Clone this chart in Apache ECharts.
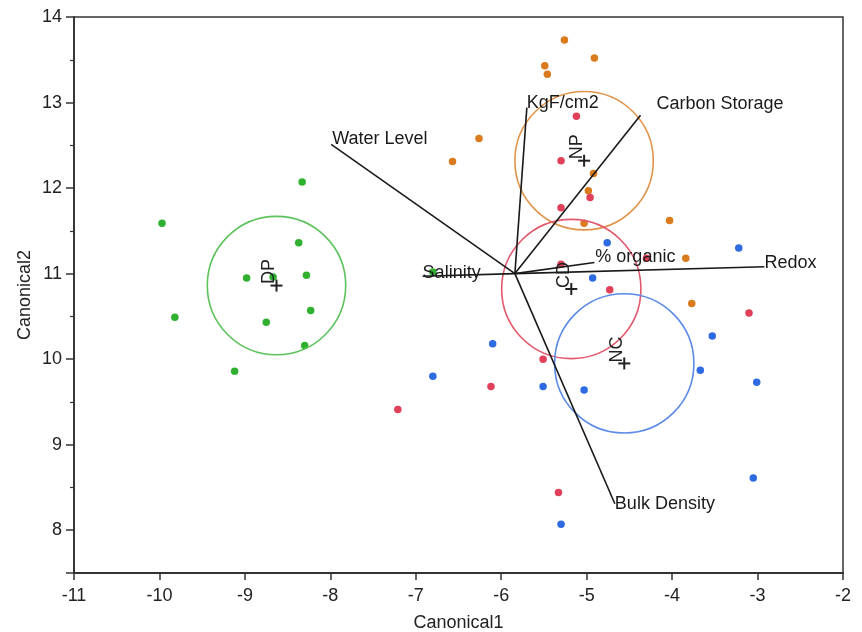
<!DOCTYPE html>
<html>
<head>
<meta charset="utf-8">
<script src="https://cdn.jsdelivr.net/npm/echarts@6/dist/echarts.min.js"></script>
<style>
  html, body { margin: 0; padding: 0; background: #fff; }
  #picture { width: 862px; height: 632px; }
</style>
</head>
<body>
<div id="picture"></div>
<script>
// group points (Canonical1, Canonical2)
var dpPoints = [[-9.97, 11.59], [-8.33, 12.07], [-8.37, 11.36], [-8.98, 10.95], [-8.67, 10.96], [-8.28, 10.98],
                [-8.23, 10.57], [-8.75, 10.43], [-8.30, 10.16], [-9.82, 10.49], [-9.12, 9.86], [-6.80, 11.02]];
var npPoints = [[-5.26, 13.73], [-4.91, 13.52], [-5.49, 13.43], [-5.46, 13.33], [-6.26, 12.58], [-6.57, 12.31],
                [-4.92, 12.17], [-4.98, 11.97], [-5.03, 11.59], [-4.03, 11.62], [-3.84, 11.18], [-3.77, 10.65]];
var cdPoints = [[-5.12, 12.84], [-5.30, 12.32], [-4.96, 11.89], [-5.30, 11.77], [-5.30, 11.11], [-4.30, 11.18],
                [-4.73, 10.81], [-5.51, 10.00], [-6.12, 9.68], [-7.21, 9.41], [-5.33, 8.44], [-3.10, 10.54]];
var ncPoints = [[-4.76, 11.36], [-4.93, 10.95], [-6.10, 10.18], [-6.80, 9.80], [-5.51, 9.68], [-5.03, 9.64],
                [-5.30, 8.07], [-3.22, 11.30], [-3.53, 10.27], [-3.67, 9.87], [-3.01, 9.73], [-3.05, 8.61]];

// group means and circle radius
var groupNames = ['DP', 'NP', 'CD', 'NC'];
var groupCenterX = [-8.63, -5.03, -5.18, -4.56];
var groupCenterY = [10.86, 12.32, 10.82, 9.95];
var groupRadius = [0.81, 0.81, 0.815, 0.815];

// biplot rays
var rayOrigin = [-5.84, 11.00];
var rayNames = ['Water Level', 'KgF/cm2', 'Carbon Storage', '% organic', 'Redox', 'Salinity', 'Bulk Density'];
var rayX = [-7.99, -5.70, -4.37, -4.91, -2.92, -6.92, -4.67];
var rayY = [12.51, 12.94, 12.85, 11.13, 11.08, 10.97, 8.31];

var dotColors = ['#2fb12f', '#d97b1e', '#e0405a', '#2f6be0'];
var ringColors = ['#5cc25c', '#e0944a', '#e2586c', '#5b8be6'];
var rayLabelOffset = [[1, 4], [0, 4], [16, -2], [1, 4], [0, 5], [0, 6], [0, 9]];
var FONT = '18px "Liberation Sans", Arial, sans-serif';

var myChart = echarts.init(document.getElementById('picture'));

var dotSeries = [dpPoints, npPoints, cdPoints, ncPoints].map(function (pts, i) {
    return {
        name: groupNames[i],
        type: 'scatter',
        symbolSize: 7.5,
        data: pts,
        itemStyle: { color: dotColors[i], opacity: 1 },
        z: 2
    };
});

var option = {
    backgroundColor: '#fff',
    animation: false,
    grid: {
        left: 74, right: 19, top: 17, bottom: 59,
        outerBoundsMode: 'none',
        containLabel: false,
        show: true, borderColor: '#333', borderWidth: 1.5
    },
    xAxis: {
        type: 'value',
        min: -11, max: -2, interval: 1,
        name: 'Canonical1',
        nameLocation: 'middle',
        nameGap: 41,
        nameMoveOverlap: false,
        nameTextStyle: { color: '#222', fontSize: 18, fontFamily: 'Liberation Sans' },
        axisLine: { onZero: false, lineStyle: { color: '#333', width: 1.8 } },
        axisTick: { length: 7, lineStyle: { color: '#333', width: 1.5 } },
        axisLabel: { color: '#222', fontSize: 18, fontFamily: 'Liberation Sans', margin: 14 },
        splitLine: { show: false }
    },
    yAxis: {
        type: 'value',
        min: 7.5, max: 14,
        name: 'Canonical2',
        nameLocation: 'middle',
        nameGap: 40,
        nameMoveOverlap: false,
        nameTextStyle: { color: '#222', fontSize: 18, fontFamily: 'Liberation Sans' },
        axisLine: { onZero: false, lineStyle: { color: '#333', width: 1.8 } },
        axisTick: { length: 8, lineStyle: { color: '#333', width: 1.5 } },
        minorTick: { show: true, splitNumber: 2, length: 4, lineStyle: { color: '#333', width: 1.2 } },
        axisLabel: { color: '#222', fontSize: 18, fontFamily: 'Liberation Sans', margin: 12, showMinLabel: false },
        splitLine: { show: false }
    },
    series: dotSeries.concat([
        {
            type: 'custom',
            name: 'groups',
            data: groupCenterX.map(function (x, i) { return [x, groupCenterY[i]]; }),
            z: 3,
            renderItem: function (params, api) {
                var i = params.dataIndex;
                var c = api.coord([api.value(0), api.value(1)]);
                var r = api.size([groupRadius[i], 0])[0];
                return {
                    type: 'group',
                    children: [
                        { type: 'circle', shape: { cx: c[0], cy: c[1], r: r },
                          style: { fill: null, stroke: ringColors[i], lineWidth: 1.6 } },
                        { type: 'line', shape: { x1: c[0] - 6, y1: c[1], x2: c[0] + 6, y2: c[1] },
                          style: { stroke: '#222', lineWidth: 2 } },
                        { type: 'line', shape: { x1: c[0], y1: c[1] - 6, x2: c[0], y2: c[1] + 6 },
                          style: { stroke: '#222', lineWidth: 2 } },
                        { type: 'text', x: c[0] - 7, y: c[1] - 14, rotation: Math.PI / 2,
                          style: { text: groupNames[i], font: FONT, fill: '#222', align: 'center', verticalAlign: 'middle' } }
                    ]
                };
            }
        },
        {
            type: 'custom',
            name: 'rays',
            data: rayX.map(function (x, i) { return [x, rayY[i]]; }),
            z: 4,
            renderItem: function (params, api) {
                var i = params.dataIndex;
                var p0 = api.coord(rayOrigin);
                var p1 = api.coord([api.value(0), api.value(1)]);
                var off = rayLabelOffset[i];
                return {
                    type: 'group',
                    children: [
                        { type: 'line', shape: { x1: p0[0], y1: p0[1], x2: p1[0], y2: p1[1] },
                          style: { stroke: '#1a1a1a', lineWidth: 1.6 } },
                        { type: 'text', x: p1[0] + off[0], y: p1[1] + off[1],
                          style: { text: rayNames[i], font: FONT, fill: '#1a1a1a', align: 'left', verticalAlign: 'bottom' } }
                    ]
                };
            }
        }
    ])
};
myChart.setOption(option);
</script>
</body>
</html>
